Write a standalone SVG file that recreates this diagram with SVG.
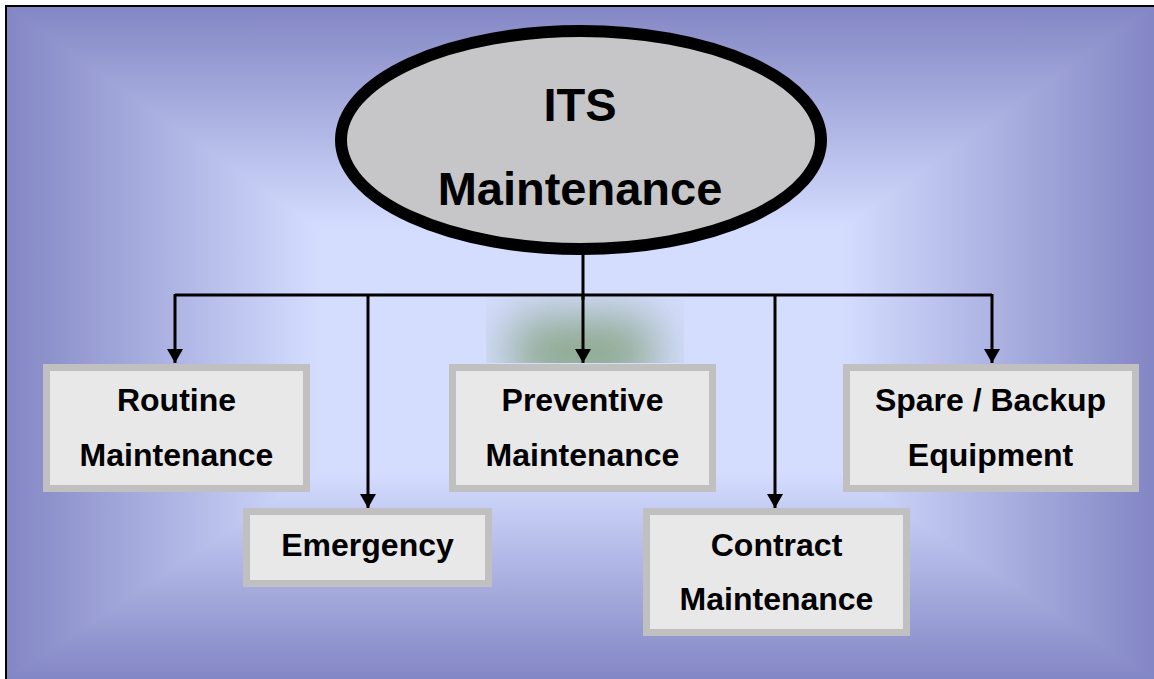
<svg xmlns="http://www.w3.org/2000/svg" width="1154" height="679" viewBox="0 0 1154 679">
<style>
.box{fill:#e8e8e8;stroke:#c0c0c0;stroke-width:7}
.lbl{font-family:"Liberation Sans",Arial,sans-serif;font-weight:bold;font-size:32px;fill:#000;text-anchor:middle}
.big{font-family:"Liberation Sans",Arial,sans-serif;font-weight:bold;font-size:47px;fill:#000;text-anchor:middle}
.con{fill:none;stroke:#000;stroke-width:3}
.bg{shape-rendering:crispEdges}
</style>
<defs>
<linearGradient id="gT" gradientUnits="userSpaceOnUse" x1="0" y1="6" x2="0" y2="230"><stop offset="0" stop-color="#8386c4"/><stop offset="1" stop-color="#d5ddff"/></linearGradient>
<linearGradient id="gB" gradientUnits="userSpaceOnUse" x1="0" y1="679" x2="0" y2="470"><stop offset="0" stop-color="#8386c4"/><stop offset="1" stop-color="#d5ddff"/></linearGradient>
<linearGradient id="gL" gradientUnits="userSpaceOnUse" x1="6" y1="0" x2="320" y2="0"><stop offset="0" stop-color="#8386c4"/><stop offset="1" stop-color="#d5ddff"/></linearGradient>
<linearGradient id="gR" gradientUnits="userSpaceOnUse" x1="1154" y1="0" x2="840" y2="0"><stop offset="0" stop-color="#8386c4"/><stop offset="1" stop-color="#d5ddff"/></linearGradient>
<filter id="blur" x="-60%" y="-60%" width="220%" height="220%"><feGaussianBlur stdDeviation="26"/></filter>
<clipPath id="gclip"><rect x="486" y="297" width="198" height="66"/></clipPath>
<marker id="ah" markerWidth="14" markerHeight="16" refX="14" refY="8" orient="auto" markerUnits="userSpaceOnUse" viewBox="0 0 14 16"><path d="M0,0 L14,8 L0,16 Z" fill="#000"/></marker>
</defs>
<rect x="0" y="0" width="1154" height="679" fill="#ffffff"/>
<g id="background">
<rect x="6" y="6" width="1148" height="673" fill="#d5ddff"/>
<polygon class="bg" points="6,6 1154,6 840,230 320,230" fill="url(#gT)"/>
<polygon class="bg" points="6,679 1154,679 840,470 320,470" fill="url(#gB)"/>
<polygon class="bg" points="6,6 320,230 320,470 6,679" fill="url(#gL)"/>
<polygon class="bg" points="1154,6 840,230 840,470 1154,679" fill="url(#gR)"/>
<g clip-path="url(#gclip)"><rect x="512" y="318" width="142" height="70" fill="#7f9f78" opacity="0.9" filter="url(#blur)"/></g>
<path d="M6,679 L6,6 L1154,6" fill="none" stroke="#000" stroke-width="2"/>
</g>
<g id="connectors">
<path class="con" d="M583,250 L583,300"/>
<path class="con" d="M175,295 L992,295"/>
<path class="con" d="M175,294 L175,363" marker-end="url(#ah)"/>
<path class="con" d="M583,296 L583,363" marker-end="url(#ah)"/>
<path class="con" d="M992,294 L992,363" marker-end="url(#ah)"/>
<path class="con" d="M368,295 L368,508" marker-end="url(#ah)"/>
<path class="con" d="M775,295 L775,508" marker-end="url(#ah)"/>
</g>
<g id="its">
<ellipse cx="581" cy="140" rx="240" ry="109" fill="#c6c6c8" stroke="#000" stroke-width="12"/>
<text class="big" x="580" y="121">ITS</text>
<text class="big" x="580" y="205">Maintenance</text>
</g>
<g id="routine">
<rect class="box" x="46.5" y="367.5" width="260" height="121"/>
<text class="lbl" x="176.5" y="411">Routine</text>
<text class="lbl" x="176.5" y="466">Maintenance</text>
</g>
<g id="emergency">
<rect class="box" x="246.5" y="511.5" width="242" height="72"/>
<text class="lbl" x="367.5" y="556">Emergency</text>
</g>
<g id="preventive">
<rect class="box" x="452.5" y="367.5" width="260" height="121"/>
<text class="lbl" x="582.5" y="411">Preventive</text>
<text class="lbl" x="582.5" y="466">Maintenance</text>
</g>
<g id="contract">
<rect class="box" x="646.5" y="511.5" width="260" height="121"/>
<text class="lbl" x="776.5" y="556">Contract</text>
<text class="lbl" x="776.5" y="610">Maintenance</text>
</g>
<g id="spare">
<rect class="box" x="846.5" y="367.5" width="289" height="121"/>
<text class="lbl" x="990.5" y="411">Spare / Backup</text>
<text class="lbl" x="990.5" y="466">Equipment</text>
</g>
</svg>
